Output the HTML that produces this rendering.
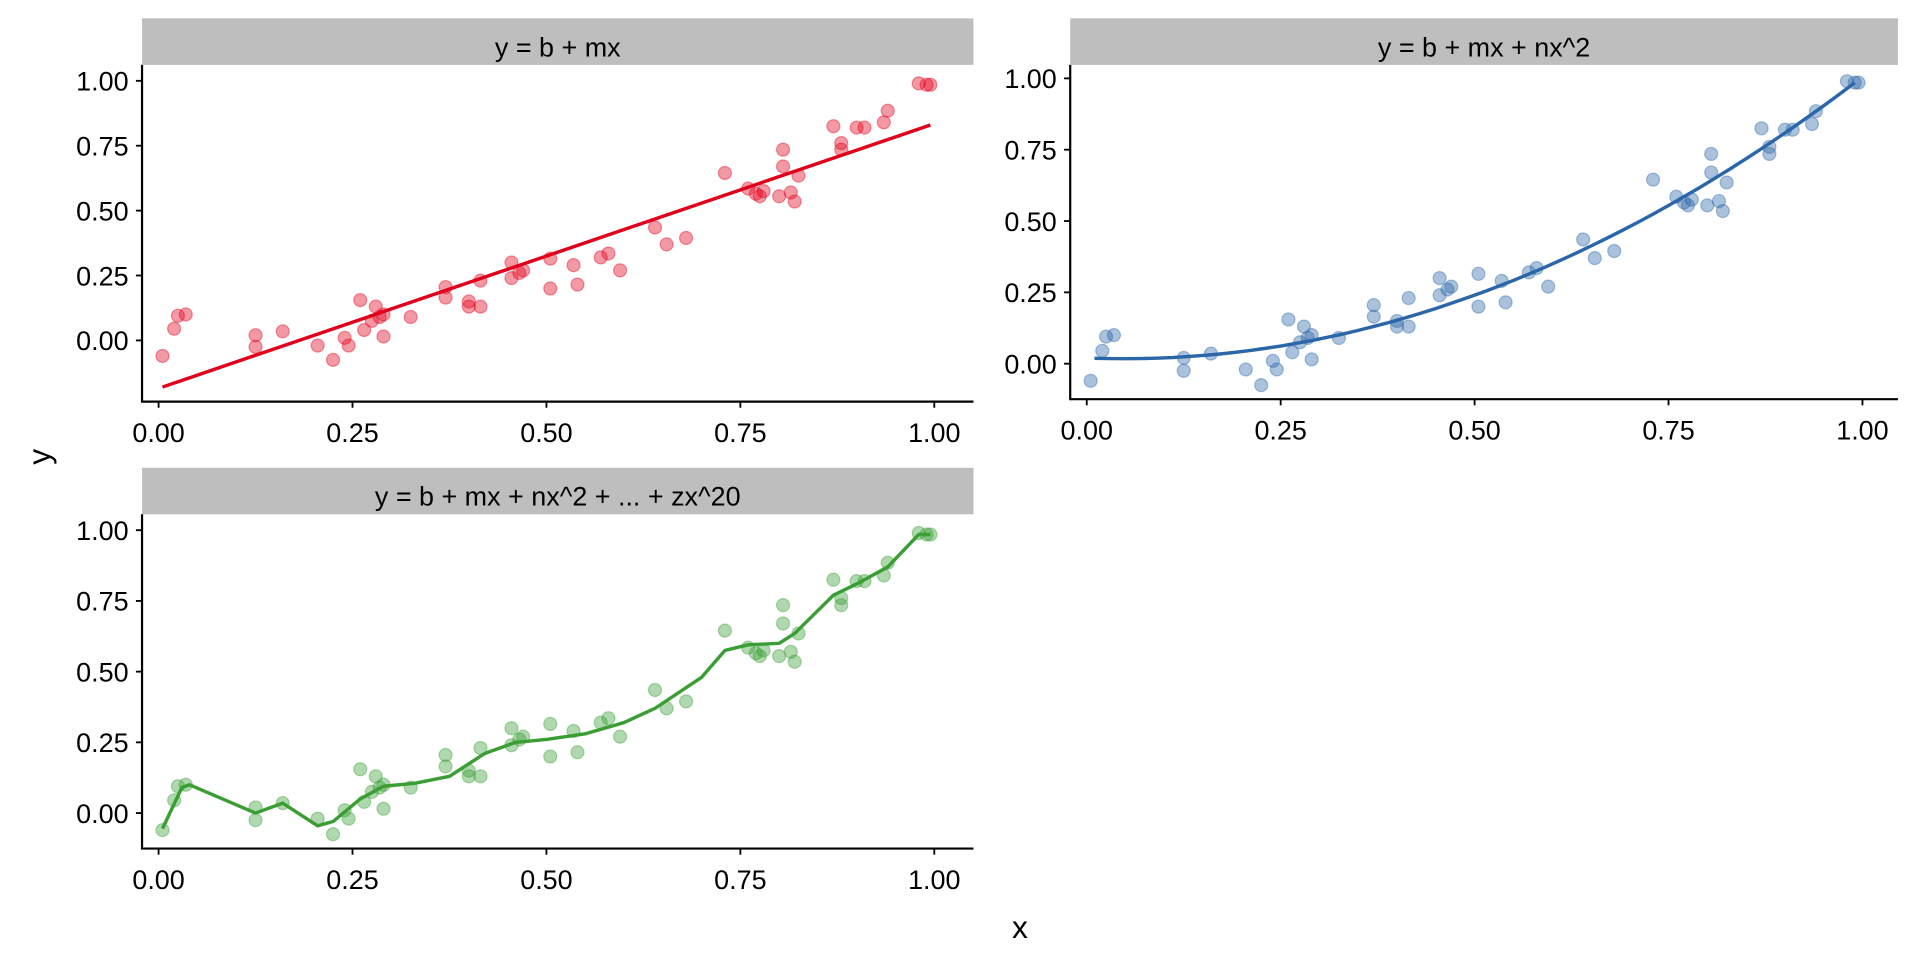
<!DOCTYPE html>
<html><head><meta charset="utf-8"><style>
html,body{margin:0;padding:0;background:#fff;}
svg{display:block;}
text{font-family:"Liberation Sans",Arial,sans-serif;fill:#000;}
</style></head><body>
<svg id="s" width="1920" height="960" viewBox="0 0 1568 784" xmlns="http://www.w3.org/2000/svg"></svg>
<script>
const pts=[[0.005,-0.06],[0.02,0.045],[0.025,0.095],[0.035,0.10],[0.125,0.02],[0.125,-0.025],[0.16,0.035],[0.205,-0.02],[0.225,-0.075],[0.24,0.01],[0.245,-0.02],[0.26,0.155],[0.265,0.04],[0.275,0.075],[0.28,0.13],[0.285,0.09],[0.29,0.015],[0.29,0.10],[0.325,0.09],[0.37,0.165],[0.37,0.205],[0.40,0.15],[0.40,0.13],[0.415,0.13],[0.415,0.23],[0.455,0.30],[0.455,0.24],[0.47,0.27],[0.465,0.26],[0.505,0.20],[0.505,0.315],[0.535,0.29],[0.54,0.215],[0.57,0.32],[0.58,0.335],[0.595,0.27],[0.64,0.435],[0.655,0.37],[0.68,0.395],[0.73,0.645],[0.76,0.585],[0.77,0.565],[0.775,0.555],[0.78,0.575],[0.80,0.555],[0.805,0.735],[0.805,0.67],[0.815,0.57],[0.82,0.535],[0.825,0.635],[0.87,0.825],[0.88,0.76],[0.88,0.735],[0.90,0.82],[0.91,0.82],[0.935,0.84],[0.94,0.885],[0.98,0.99],[0.99,0.985],[0.995,0.985]];
const panels=[
 {L:116,R:795,T:15,S:53,B:328,x0:129.5,x1:763,y1:66,y0:278,title:"y = b + mx",col:"#E0001B",
  line:[[0.005,-0.185+1.02*0.005],[0.995,-0.185+1.02*0.995]]},
 {L:874,R:1550,T:15,S:53,B:326,x0:887.5,x1:1521,y1:64,y0:297,title:"y = b + mx + nx^2",col:"#2B66A8",
  line:Array.from({length:50},(_,i)=>{const x=0.01+i*0.98/49;return [x,0.02-0.105*x+1.09*x*x];})},
 {L:116,R:795,T:382,S:420,B:693,x0:129.5,x1:763,y1:433,y0:664,title:"y = b + mx + nx^2 + ... + zx^20",col:"#3A9E34",
  line:[[0.005,-0.055],[0.03,0.09],[0.04,0.10],[0.125,0],[0.16,0.035],[0.205,-0.045],[0.225,-0.03],[0.26,0.05],[0.29,0.095],[0.33,0.105],[0.375,0.13],[0.42,0.21],[0.46,0.25],[0.5,0.26],[0.55,0.28],[0.6,0.32],[0.64,0.37],[0.7,0.48],[0.73,0.575],[0.76,0.595],[0.8,0.6],[0.82,0.635],[0.87,0.77],[0.9,0.81],[0.94,0.87],[0.98,0.985],[0.995,0.985]]}
];
let h='';
for(const p of panels){
 const X=v=>p.x0+(p.x1-p.x0)*v, Y=v=>p.y0+(p.y1-p.y0)*v;
 h+=`<rect x="${p.L}" y="${p.T}" width="${p.R-p.L}" height="${p.S-p.T}" fill="#BEBEBE"/>`;
 h+=`<text x="${(p.L+p.R)/2}" y="${p.T+31}" font-size="22" text-anchor="middle">${p.title}</text>`;
 for(const [x,y] of pts) h+=`<circle cx="${X(x).toFixed(1)}" cy="${Y(y).toFixed(1)}" r="5.3" fill="${p.col}" fill-opacity="0.4" stroke="${p.col}" stroke-opacity="0.4" stroke-width="1"/>`;
 h+=`<polyline fill="none" stroke="${p.col}" stroke-width="2.8" stroke-linejoin="round" points="${p.line.map(([x,y])=>X(x).toFixed(1)+','+Y(y).toFixed(1)).join(' ')}"/>`;
 h+=`<path d="M${p.L},${p.S} V${p.B} H${p.R}" fill="none" stroke="#000" stroke-width="1.8"/>`;
 for(let i=0;i<5;i++){const v=i*0.25,lab=v.toFixed(2);
  h+=`<line x1="${X(v)}" x2="${X(v)}" y1="${p.B}" y2="${p.B+5}" stroke="#000" stroke-width="1.5"/>`;
  h+=`<text x="${X(v)}" y="${p.B+33}" font-size="22" text-anchor="middle">${lab}</text>`;
  h+=`<line x1="${p.L-5}" x2="${p.L}" y1="${Y(v)}" y2="${Y(v)}" stroke="#000" stroke-width="1.5"/>`;
  h+=`<text x="${p.L-11}" y="${Y(v)+8}" font-size="22" text-anchor="end">${lab}</text>`;}
}
h+=`<text x="833" y="766" font-size="26" text-anchor="middle">x</text>`;
h+=`<text transform="translate(41,373) rotate(-90)" font-size="26" text-anchor="middle">y</text>`;
document.getElementById('s').innerHTML=h;
</script>
</body></html>
